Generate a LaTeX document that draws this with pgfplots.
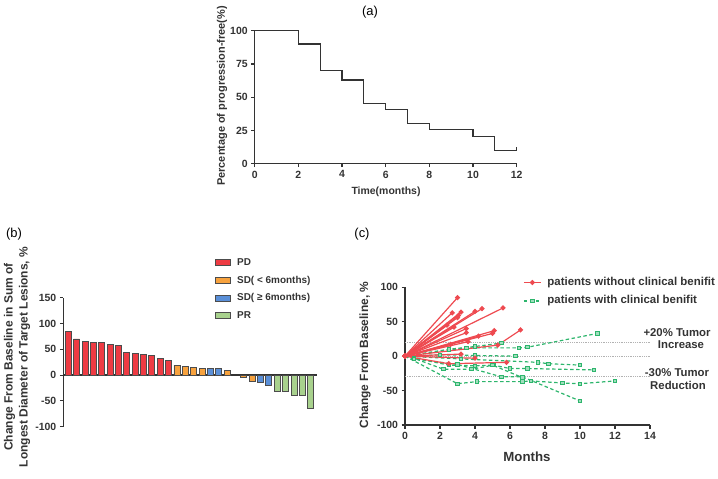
\documentclass[border=0pt]{standalone}
\usepackage{pgfplots}
\pgfplotsset{compat=1.18}
\usepackage{fontspec}
\setmainfont{Liberation Sans}

\definecolor{pdred}{HTML}{EE3B43}
\definecolor{sdorange}{HTML}{F7A23E}
\definecolor{sdblue}{HTML}{5A8FD8}
\definecolor{prgreen}{HTML}{A8D18D}
\definecolor{linered}{HTML}{EE4A50}
\definecolor{linegreen}{HTML}{2DB56C}
\definecolor{axgray}{HTML}{333333}

\pgfplotsset{
  panel/.style={
    scale only axis,
    axis line style={axgray, line width=1.3bp},
    tick style={axgray, line width=1.1bp},
    major tick length=3.5bp,
    tick align=outside,
    ticklabel style={font=\fontsize{10.5}{12}\selectfont\bfseries, text=axgray},
    /pgf/number format/assume math mode=true,
    clip=false,
  },
  bars/.style={fill=#1, draw=black!70, line width=0.9bp, bar shift=0pt,
    legend image code/.code={\draw[##1] (0bp,-3bp) rectangle (15bp,3bp);}},
  redp/.style={linered, line width=1.2bp, mark=*, mark size=1.9bp,
    mark options={solid, fill=linered}},
  grnp/.style={linegreen, line width=1.2bp, dash pattern=on 3.5bp off 2.5bp,
    mark=square*, mark size=1.7bp, mark options={solid, fill=linegreen!45, line width=0.9bp}},
}

\begin{document}
\begin{tikzpicture}
\useasboundingbox (0bp,0bp) rectangle (718bp,-479bp);

% ---------- (a) progression-free curve
\begin{axis}[panel, at={(254.7bp,-163.7bp)}, anchor=south west,
  width=262bp, height=133bp,
  axis lines*=left,
  xmin=0, xmax=12, ymin=0, ymax=100,
  xtick={0,2,...,12}, ytick={0,25,50,75,100}]
\addplot[const plot, axgray, line width=1.2bp] coordinates {
  (0,100) (2,90) (3,70) (4,63) (5,45.5) (6,41) (7,30.5) (8,25.5) (10,20.5) (11,10) (12,10)};
\addplot[axgray, line width=1.2bp] coordinates {(12,10) (12,12.5)};
\end{axis}
\node[font=\fontsize{13}{15}\selectfont] at (370bp,-12bp) {(a)};
\node[rotate=90, font=\fontsize{11}{13}\selectfont\bfseries, text=axgray] at (222bp,-96bp) {Percentage of progression-free(\%)};
\node[font=\fontsize{10.5}{13}\selectfont\bfseries, text=axgray] at (386bp,-192bp) {Time(months)};

% ---------- (b) waterfall
\begin{axis}[panel, at={(63.3bp,-426.7bp)}, anchor=south west,
  width=253.7bp, height=129bp,
  axis y line*=left, axis x line*=middle,
  xmin=0.4, xmax=30.75, ymin=-100, ymax=150,
  xtick=\empty, ytick={-100,-50,...,150},
  ybar, bar width=0.72,
  legend cell align=left,
  legend style={at={(0.598,1.318)}, anchor=north west, draw=none, fill=none,
    inner sep=0pt, row sep=6.2bp, column sep=5bp,
    font=\fontsize{10}{12}\selectfont\bfseries,
    nodes={inner sep=1bp, text height=7.5bp, text depth=2bp, text=axgray}}]
\addplot[bars=pdred] coordinates {(1,84) (2,70) (3,65) (4,63.5) (5,63) (6,59.5) (7,57)
  (8,43) (9,42) (10,40) (11,38) (12,33) (13,28.5)};
\addplot[bars=sdorange] coordinates {(14,19.5) (15,17) (16,15.5) (17,13.5) (20,9) (22,-4) (23,-11.5)};
\addplot[bars=sdblue] coordinates {(18,13) (19,12.3) (24,-13.5) (25,-20)};
\addplot[bars=prgreen] coordinates {(26,-31) (27,-31) (28,-39.5) (29,-40) (30,-64.5)};
\legend{PD, SD( < 6months), SD( ≥ 6months), PR}
\end{axis}
\node[font=\fontsize{13}{15}\selectfont] at (14bp,-234bp) {(b)};
\node[rotate=90, align=center, font=\fontsize{12}{15}\selectfont\bfseries, text=axgray] at (17bp,-357bp)
  {Change From Baseline in Sum of\\Longest Diameter of Target Lesions, \%};

% ---------- (c) spider plot
\begin{axis}[panel, at={(405bp,-425bp)}, anchor=south west,
  width=245bp, height=137.7bp,
  axis lines*=left,
  xmin=0, xmax=14, ymin=-100, ymax=100,
  xtick={0,2,...,14}, ytick={-100,-50,...,100},
  legend cell align=left,
  legend image code/.code={\draw[mark repeat=2, mark phase=2, #1]
    plot coordinates {(0bp,0bp) (8.5bp,0bp) (17bp,0bp)};},
  legend style={at={(0.4816,1.0835)}, anchor=north west, draw=none, fill=none,
    inner sep=0pt, row sep=5.4bp, column sep=5bp,
    font=\fontsize{11.5}{13}\selectfont\bfseries,
    nodes={inner sep=1bp, text height=8.5bp, text depth=2.5bp, text=axgray}}]
\addplot[gray!60, densely dotted, line width=0.8bp, forget plot] coordinates {(0,20) (14,20)};
\addplot[gray!60, densely dotted, line width=0.8bp, forget plot] coordinates {(0,0) (14,0)};
\addplot[gray!60, densely dotted, line width=0.8bp, forget plot] coordinates {(0,-30) (14,-30)};
\addplot[redp] coordinates {(0,0) (3,85)};
\addplot[grnp] coordinates {(0,0) (3.5,12) (6.5,12) (7,13) (11,33)};
\legend{patients without clinical benifit, patients with clinical benifit}
% with clinical benefit
\addplot[grnp, forget plot] coordinates {(0,0) (2.5,10) (4,14) (5.5,19)};
\addplot[grnp, forget plot] coordinates {(0,0) (2,2) (4,1) (6.3,0)};
\addplot[grnp, forget plot] coordinates {(0,0) (3.2,-4) (7.6,-9) (8.2,-11) (10,-13)};
\addplot[grnp, forget plot] coordinates {(0,0) (0.5,-3) (2.2,-19) (3.8,-19) (5.05,-13) (6,-18) (7,-18) (10.8,-20)};
\addplot[grnp, forget plot] coordinates {(0,0) (3,-40) (4.1,-37) (6.7,-37) (7.2,-36) (9,-39) (10,-40) (12,-36)};
\addplot[grnp, forget plot] coordinates {(0,0) (0.5,-4) (3,-12) (5.5,-30) (6.7,-30) (10,-65)};
\addplot[grnp, forget plot] coordinates {(0,0) (2.5,-13) (4,-14) (5,-13) (6.7,-31)};
% without clinical benefit
\addplot[redp, forget plot] coordinates {(0,0) (2.7,63)};
\addplot[redp, forget plot] coordinates {(0,0) (3.2,64)};
\addplot[redp, forget plot] coordinates {(0,0) (3.05,59)};
\addplot[redp, forget plot] coordinates {(0,0) (3.0,56)};
\addplot[redp, forget plot] coordinates {(0,0) (4.0,65)};
\addplot[redp, forget plot] coordinates {(0,0) (4.4,69)};
\addplot[redp, forget plot] coordinates {(0,0) (5.6,70)};
\addplot[redp, forget plot] coordinates {(0,0) (2.4,45)};
\addplot[redp, forget plot] coordinates {(0,0) (2.8,42)};
\addplot[redp, forget plot] coordinates {(0,0) (3.5,40)};
\addplot[redp, forget plot] coordinates {(0,0) (3.5,34)};
\addplot[redp, forget plot] coordinates {(0,0) (5.1,37)};
\addplot[redp, forget plot] coordinates {(0,0) (5.0,33)};
\addplot[redp, forget plot] coordinates {(0,0) (4.2,29)};
\addplot[redp, forget plot] coordinates {(0,0) (3.6,21)};
\addplot[redp, forget plot] coordinates {(0,0) (2.6,17)};
\addplot[redp, forget plot] coordinates {(0,0) (5.3,16) (6.6,38)};
\addplot[redp, forget plot] coordinates {(0,0) (3.2,3)};
\addplot[redp, forget plot] coordinates {(0,0) (4.0,-3)};
\addplot[redp, forget plot] coordinates {(0,0) (2.5,-11) (5.8,-9)};
\end{axis}
\node[font=\fontsize{13}{15}\selectfont] at (362bp,-234bp) {(c)};
\node[rotate=90, font=\fontsize{12}{15}\selectfont\bfseries, text=axgray] at (365bp,-355bp) {Change From Baseline, \%};
\node[font=\fontsize{13.3}{15}\selectfont\bfseries, text=axgray] at (527bp,-456.7bp) {Months};
\node[font=\fontsize{11.4}{13}\selectfont\bfseries, text=axgray] at (677bp,-332.3bp) {+20\% Tumor};
\node[font=\fontsize{11.4}{13}\selectfont\bfseries, text=axgray] at (681bp,-345bp) {Increase};
\node[font=\fontsize{11.4}{13}\selectfont\bfseries, text=axgray] at (677bp,-372.7bp) {-30\% Tumor};
\node[font=\fontsize{11.4}{13}\selectfont\bfseries, text=axgray] at (678bp,-385bp) {Reduction};
\end{tikzpicture}
\end{document}
